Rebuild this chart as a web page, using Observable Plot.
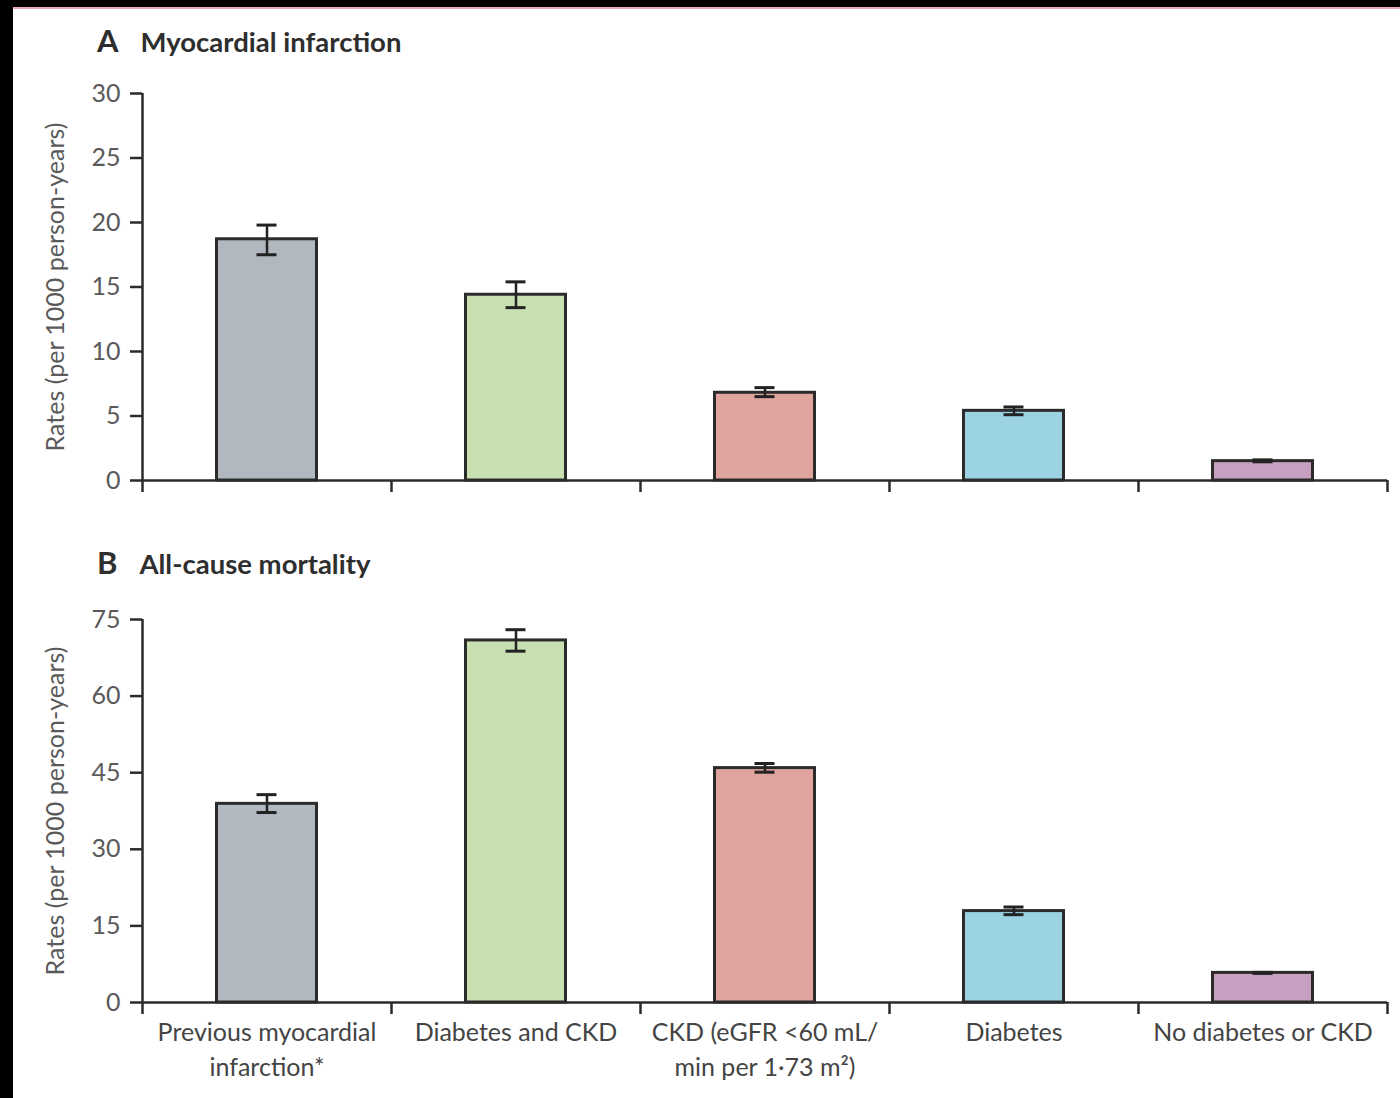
<!DOCTYPE html>
<html>
<head>
<meta charset="utf-8">
<script src="https://cdn.jsdelivr.net/npm/d3@7"></script>
<script src="https://cdn.jsdelivr.net/npm/@observablehq/plot@0.6"></script>
<style>
  html, body { margin: 0; padding: 0; background: #fff; }
  body { width: 1400px; height: 1098px; position: relative; overflow: hidden; font-family: Lato, "Open Sans", sans-serif; }
  #topbar { position: absolute; left: 0; top: 0; width: 1400px; height: 7px; background: #000; }
  #pinkline { position: absolute; left: 0; top: 7px; width: 1400px; height: 2px; background: #e8a6c8; }
  #leftbar { position: absolute; left: 0; top: 0; width: 13px; height: 1098px; background: #000; }
  .title { position: absolute; left: 97px; color: #2e2e2e; font-weight: 700; white-space: nowrap; line-height: 1; }
  .title .letter { font-size: 31px; margin-right: 22px; }
  .title .name { font-size: 27.5px; }
  #panelA { position: absolute; left: 0; top: 70px; }
  #panelB { position: absolute; left: 0; top: 590px; }
</style>
</head>
<body>
<div id="topbar"></div>
<div id="pinkline"></div>
<div id="leftbar"></div>
<div class="title" id="titleA" style="top:25px"><span class="letter">A</span><span class="name">Myocardial infarction</span></div>
<div class="title" id="titleB" style="top:547px"><span class="letter">B</span><span class="name">All-cause mortality</span></div>
<div id="panelA"></div>
<div id="panelB"></div>
<script>
// ---- data ----
const categories = [
  "Previous myocardial\ninfarction*",
  "Diabetes and CKD",
  "CKD (eGFR <60 mL/\nmin per 1·73 m²)",
  "Diabetes",
  "No diabetes or CKD"
];
const barColors = ["#b1b8bf", "#c8dfb2", "#e0a49e", "#9bd3e3", "#c69fc1"];

const miRate = [18.7, 14.4, 6.8, 5.4, 1.5];
const miLow  = [17.5, 13.4, 6.5, 5.1, 1.45];
const miHigh = [19.8, 15.4, 7.2, 5.7, 1.6];

const mortRate = [38.9, 70.9, 45.9, 17.9, 5.8];
const mortLow  = [37.2, 68.8, 45.1, 17.2, 5.7];
const mortHigh = [40.7, 73.0, 46.8, 18.7, 5.9];

const yTicksA = [0, 5, 10, 15, 20, 25, 30];
const yTicksB = [0, 15, 30, 45, 60, 75];
const yLabel = "Rates (per 1000 person-years)";

function rows(rate, low, high) {
  return categories.map((c, i) => ({
    label: c, i0: i, i1: i + 1, mid: i + 0.5,
    rate: rate[i], low: low[i], high: high[i], color: barColors[i]
  }));
}

function panel({data, yMax, yTicks, height, marginTop, marginBottom, showLabels}) {
  const n = categories.length;
  const bounds = d3.range(n + 1);
  const ink = "#2b2b2b";
  const marks = [
    Plot.rectY(data, {x1: "i0", x2: "i1", y: "rate", fill: "color", stroke: ink, strokeWidth: 3, insetLeft: 74.5, insetRight: 74.5}),
    Plot.ruleX(data, {x: "mid", y1: "low", y2: "high", stroke: "#222", strokeWidth: 2.5}),
    Plot.ruleY(data, {x1: "i0", x2: "i1", y: "low", stroke: "#222", strokeWidth: 3, insetLeft: 114.5, insetRight: 114.5}),
    Plot.ruleY(data, {x1: "i0", x2: "i1", y: "high", stroke: "#222", strokeWidth: 3, insetLeft: 114.5, insetRight: 114.5}),
    Plot.ruleX([0], {y1: 0, y2: yMax, stroke: ink, strokeWidth: 2.5}),
    Plot.ruleY([0], {x1: 0, x2: n, stroke: ink, strokeWidth: 2.5}),
    Plot.axisY({ticks: yTicks, tickSize: 12, tickPadding: 10, tickFormat: d => String(d), label: null, stroke: ink, strokeWidth: 2.5, fill: "#5a5a5a", fontSize: 25}),
    Plot.axisX({ticks: bounds, tickSize: 12, tickFormat: () => "", label: null, stroke: ink, strokeWidth: 2.5}),
    Plot.text([yLabel], {frameAnchor: "left", textAnchor: "middle", rotate: -90, dx: -87, fontSize: 25, fill: "#5a5a5a"})
  ];
  if (showLabels) {
    marks.push(Plot.text(data, {x: "mid", y: 0, text: "label", lineAnchor: "top", dy: 14, lineHeight: 1.4, fontSize: 25, fill: "#444"}));
  }
  return Plot.plot({
    width: 1400, height, marginLeft: 142, marginRight: 13, marginTop, marginBottom,
    x: {type: "linear", domain: [0, n], axis: null},
    y: {domain: [0, yMax], axis: null},
    style: {fontFamily: "Lato, 'Open Sans', sans-serif", fontSize: "22px", background: "transparent", overflow: "visible"},
    marks
  });
}

document.getElementById("panelA").appendChild(panel({
  data: rows(miRate, miLow, miHigh), yMax: 30, yTicks: yTicksA,
  height: 430, marginTop: 23, marginBottom: 20, showLabels: false
}));
document.getElementById("panelB").appendChild(panel({
  data: rows(mortRate, mortLow, mortHigh), yMax: 75, yTicks: yTicksB,
  height: 508, marginTop: 29, marginBottom: 96, showLabels: true
}));
</script>
</body>
</html>
